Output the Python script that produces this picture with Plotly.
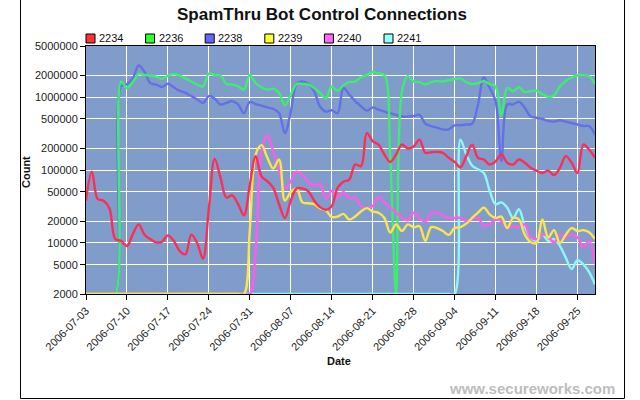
import math
import pandas as pd
import plotly.graph_objects as go

# ---------------- data ----------------
dates = pd.date_range("2006-07-03", "2006-09-28", freq="D")

series_names = ["2234", "2236", "2238", "2239", "2240", "2241"]

s2234 = [
    38000, 95000, 40000, 38000, 30000, 11300, 10700,
    9100, 13200, 18000, 13000, 11300, 10200, 10400,
    12700, 10700, 7800, 7000, 13000, 10000, 6100,
    30000, 142000, 78000, 42000, 45000, 34000, 24000,
    63000, 155000, 82000, 70000, 57000, 34000, 22000,
    38000, 56000, 56000, 51000, 38000, 31000, 28500,
    32000, 57000, 69000, 74000, 119000, 113000, 322000,
    248000, 223000, 163000, 129000, 163000, 223000, 197000,
    210000, 261000, 172000, 175000, 177000, 172000, 147000,
    129000, 109000, 155000, 223000, 147000, 139000, 119000,
    131000, 163000, 126000, 119000, 139000, 126000, 107000,
    98000, 91000, 98000, 85000, 107000, 155000, 126000,
    91000, 223000, 190000, 147000,
]
s2236 = [
    0, 0, 0, 0, 0, 0, 1630000,
    1320000, 1600000, 2060000, 2000000, 1970000, 1900000, 1770000,
    1970000, 2050000, 1970000, 1800000, 1630000, 1480000, 1400000,
    2100000, 2000000, 1970000, 1510000, 1480000, 1400000, 1260000,
    2000000, 1550000, 1360000, 1260000, 1300000, 1140000, 770000,
    1080000, 1510000, 1510000, 1480000, 1330000, 1140000, 960000,
    1400000, 1220000, 1450000, 1600000, 1630000, 1870000, 2000000,
    2200000, 2100000, 2000000, 150000, 0, 1200000, 1930000,
    1630000, 1600000, 1480000, 1600000, 1650000, 1630000, 1700000,
    1750000, 1800000, 1600000, 1500000, 1550000, 1650000, 1500000,
    1400000, 550000, 1330000, 1200000, 1360000, 1170000, 1200000,
    1220000, 1100000, 1000000, 1050000, 1400000, 1650000, 1850000,
    1970000, 2000000, 1930000, 1500000,
]
s2238 = [
    0, 0, 0, 0, 0, 0, 1400000,
    1500000, 1800000, 2700000, 2200000, 1550000, 1480000, 1370000,
    1520000, 1360000, 1220000, 1140000, 1030000, 930000, 830000,
    1030000, 950000, 790000, 830000, 880000, 790000, 600000,
    860000, 800000, 760000, 720000, 690000, 600000, 320000,
    630000, 1510000, 1630000, 1510000, 1200000, 740000, 630000,
    660000, 600000, 1330000, 1080000, 880000, 750000, 650000,
    720000, 670000, 630000, 600000, 570000, 540000, 540000,
    550000, 570000, 430000, 400000, 380000, 360000, 360000,
    410000, 410000, 420000, 430000, 790000, 1850000, 1330000,
    880000, 132000, 790000, 790000, 860000, 710000, 540000,
    520000, 500000, 470000, 460000, 480000, 460000, 440000,
    420000, 400000, 400000, 305000,
]
s2239 = [
    0, 0, 0, 0, 0, 0, 0,
    0, 0, 0, 0, 0, 0, 0,
    0, 0, 0, 0, 0, 0, 0,
    0, 0, 0, 0, 0, 0, 0,
    15000, 163000, 219000, 147000, 105000, 139000, 38000,
    50000, 56000, 36000, 35000, 34000, 30000, 28000,
    22700, 23000, 25000, 21000, 23000, 27000, 30000,
    27000, 26000, 22000, 13900, 18000, 14600, 18000,
    16500, 17000, 10700, 16500, 16000, 14600, 12900,
    16000, 16500, 18400, 22000, 26000, 30500, 24700,
    22000, 23000, 16000, 22000, 21000, 13000, 10300,
    10000, 21000, 11900, 15000, 10000, 13000, 16000,
    14600, 15000, 14000, 11300,
]
s2240 = [
    0, 0, 0, 0, 0, 0, 0,
    0, 0, 0, 0, 0, 0, 0,
    0, 0, 0, 0, 0, 0, 0,
    0, 0, 0, 0, 0, 0, 0,
    0, 8000, 181000, 300000, 181000, 100000, 56000,
    70000, 95000, 86000, 69000, 61000, 64000, 40000,
    52000, 42000, 50000, 41000, 42000, 32000, 30000,
    32000, 43000, 36000, 30500, 26000, 22000, 20500,
    26000, 22000, 19500, 26000, 26000, 24000, 22000,
    22000, 22000, 20000, 21000, 22000, 17000, 18000,
    21000, 20000, 16000, 17000, 16500, 18000, 12000,
    11300, 13000, 12500, 10000, 13000, 12000, 13000,
    12000, 8700, 10700, 5100,
]
s2241 = [
    0, 0, 0, 0, 0, 0, 0,
    0, 0, 0, 0, 0, 0, 0,
    0, 0, 0, 0, 0, 0, 0,
    0, 0, 0, 0, 0, 0, 0,
    0, 0, 0, 0, 0, 0, 0,
    0, 0, 0, 0, 0, 0, 0,
    0, 0, 0, 0, 0, 0, 0,
    0, 0, 0, 0, 0, 0, 0,
    0, 0, 0, 0, 0, 0, 0,
    0, 260000, 163000, 115000, 102000, 91000, 52000,
    34000, 36000, 30500, 22000, 29000, 17000, 11900,
    10700, 13000, 10700, 11300, 9100, 6300, 4400,
    5800, 5100, 4000, 2700,
]

y_ticks = [2000, 5000, 10000, 20000, 50000, 100000, 200000, 500000,
           1000000, 2000000, 5000000]
x_ticks = pd.date_range("2006-07-03", "2006-09-25", freq="7D")

# ---------------- style ----------------
line_colors = ["#ff2d55", "#3cee6c", "#6670e6", "#fbe548", "#ff5ce8", "#8ef6f6"]
box_colors = ["#ff3333", "#33ff33", "#6666ff", "#ffff33", "#ff66ff", "#99ffff"]
draw_order = [2, 1, 5, 4, 3, 0]
FONT = "Liberation Sans, Arial, sans-serif"

Y_MIN, Y_MAX = 2000, 5000000
L, R, T, B = 86, 45, 46, 106
W, H = 640, 400
PW, PH = W - L - R, H - T - B


def px_x(x):
    return (x - L) / PW


def px_y(y):
    return (H - B - y) / PH


fig = go.Figure()
all_series = [s2234, s2236, s2238, s2239, s2240, s2241]
for i in draw_order:
    fig.add_trace(go.Scatter(
        x=dates, y=[max(v, Y_MIN) for v in all_series[i]], name=series_names[i],
        mode="lines",
        line=dict(color=line_colors[i], width=2.4, shape="spline", smoothing=1.0),
        showlegend=False,
    ))

shapes = []
annotations = []

# legend (boxes + labels)
for i, (name, col) in enumerate(zip(series_names, box_colors)):
    x0 = 86 + 59.6 * i
    shapes.append(dict(type="rect", xref="paper", yref="paper",
                       x0=px_x(x0), x1=px_x(x0 + 9), y0=px_y(43), y1=px_y(34),
                       fillcolor=col, line=dict(color="black", width=1)))
    annotations.append(dict(xref="paper", yref="paper", x=px_x(x0 + 11), y=px_y(38.5),
                            text=name, showarrow=False, xanchor="left", yanchor="middle",
                            font=dict(family=FONT, size=11, color="#111")))

# outer frame
shapes.append(dict(type="rect", xref="paper", yref="paper",
                   x0=px_x(20.5), x1=px_x(624.5), y0=px_y(398.5), y1=px_y(-5),
                   line=dict(color="black", width=1), fillcolor="rgba(0,0,0,0)"))

# axis titles
annotations.append(dict(xref="paper", yref="paper", x=px_x(26), y=px_y(172),
                        text="<b>Count</b>", textangle=-90, showarrow=False,
                        xanchor="center", yanchor="middle",
                        font=dict(family=FONT, size=11, color="#111")))
annotations.append(dict(xref="paper", yref="paper", x=px_x(339), y=px_y(361),
                        text="<b>Date</b>", showarrow=False,
                        xanchor="center", yanchor="middle",
                        font=dict(family=FONT, size=11, color="#111")))
# watermark
annotations.append(dict(xref="paper", yref="paper", x=px_x(617), y=px_y(388),
                        text="<b>www.secureworks.com</b>", showarrow=False,
                        xanchor="right", yanchor="middle",
                        font=dict(family=FONT, size=15, color="#bdbdbd")))

fig.update_layout(
    width=W, height=H,
    margin=dict(l=L, r=R, t=T, b=B, pad=0),
    paper_bgcolor="white",
    plot_bgcolor="#809ccb",
    title=dict(text="<b>SpamThru Bot Control Connections</b>",
               x=322 / W, y=1 - 14 / H, xanchor="center", yanchor="middle",
               font=dict(family=FONT, size=17, color="#111")),
    font=dict(family=FONT, size=11, color="#222"),
    showlegend=False,
    shapes=shapes,
    annotations=annotations,
    xaxis=dict(
        type="date", range=["2006-07-03", "2006-09-28"],
        tickvals=list(x_ticks), tickformat="%Y-%m-%d", tickangle=-45,
        ticks="outside", ticklen=5, tickcolor="black", tickwidth=1,
        showline=True, linecolor="black", linewidth=1, mirror=True,
        showgrid=True, gridcolor="white", gridwidth=1, zeroline=False,
        tickfont=dict(family=FONT, size=11, color="#222"),
    ),
    yaxis=dict(
        type="log", range=[math.log10(Y_MIN), math.log10(Y_MAX)],
        tickvals=y_ticks, ticktext=[str(v) for v in y_ticks],
        ticks="outside", ticklen=5, tickcolor="black", tickwidth=1,
        showline=True, linecolor="black", linewidth=1, mirror=True,
        showgrid=True, gridcolor="white", gridwidth=1, zeroline=False,
        tickfont=dict(family=FONT, size=11, color="#222"),
    ),
)

fig.write_html("out.html")
